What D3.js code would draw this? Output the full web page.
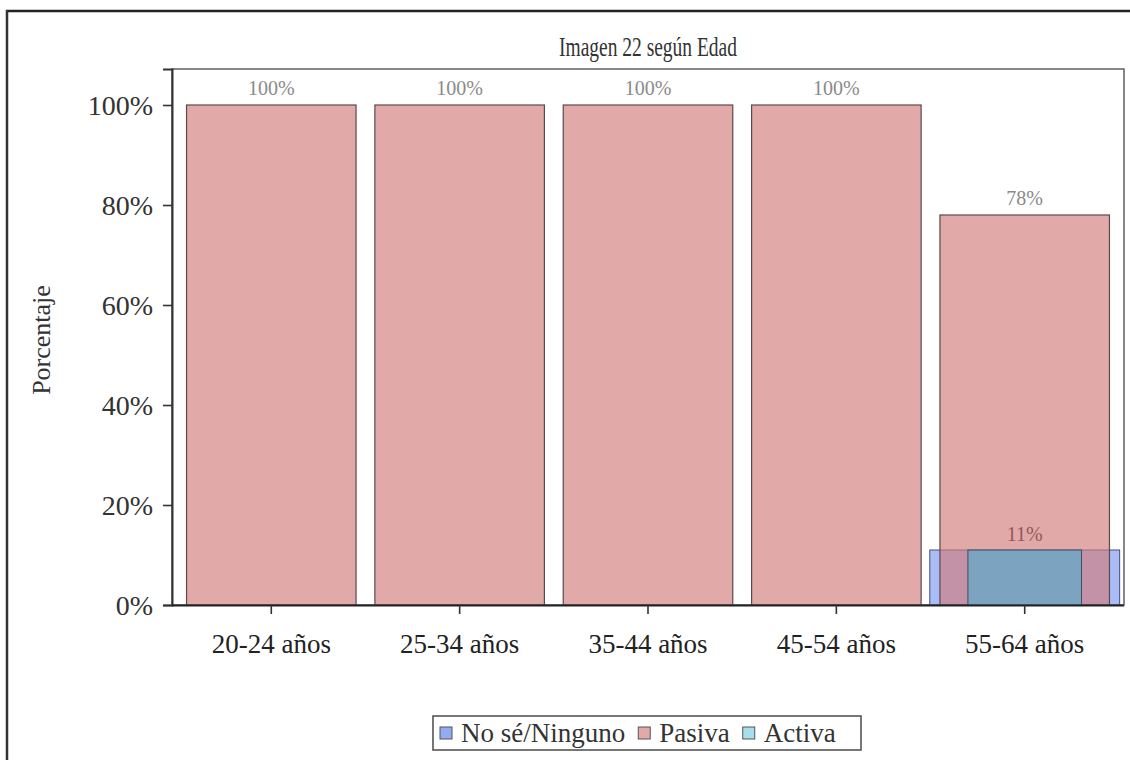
<!DOCTYPE html>
<html><head><meta charset="utf-8">
<script src="https://cdn.jsdelivr.net/npm/d3@7"></script>
<style>body{margin:0;background:#fff;}svg{display:block;font-family:"Liberation Serif","Times New Roman",serif;}</style>
</head><body>
<svg id="c" width="1130" height="760"></svg>
<script>
const categories = ["20-24 años","25-34 años","35-44 años","45-54 años","55-64 años"];
const pasiva = [100,100,100,100,78];
const noSe = [null,null,null,null,11];
const activa = [null,null,null,null,11];
const yTicks = [0,20,40,60,80,100];
const legendItems = ["No sé/Ninguno","Pasiva","Activa"];
const title = "Imagen 22 según Edad";
const yLabel = "Porcentaje";

const FF = "Liberation Serif, Times New Roman, serif";
const svg = d3.select("#c");
// outer image border (top & left)
svg.append("line").attr("x1",6).attr("x2",1130).attr("y1",11).attr("y2",11).attr("stroke","#222").attr("stroke-width",2.5);
svg.append("line").attr("x1",7).attr("x2",7).attr("y1",10).attr("y2",760).attr("stroke","#333").attr("stroke-width",2.5);

const L=172,R=1124,T=69,B=605;
const x = d3.scaleBand().domain(categories).range([179,1117]).paddingInner(0.1).paddingOuter(0.04);
const y = d3.scaleLinear().domain([0,107.2]).range([B,T]);

// frame
svg.append("rect").attr("x",L).attr("y",T).attr("width",R-L).attr("height",B-T).attr("fill","none").attr("stroke","#6a6a6a").attr("stroke-width",1.6);

const g = svg.append("g");
const bw = x.bandwidth();
// No sé (wide)
g.selectAll(".ns").data(categories.map((c,i)=>({c,v:noSe[i]})).filter(d=>d.v!=null)).enter().append("rect")
 .attr("x",d=>x(d.c)+bw/2-bw*0.56).attr("width",bw*1.12).attr("y",d=>y(d.v)).attr("height",d=>B-y(d.v))
 .attr("fill","#6f8fef").attr("fill-opacity",0.6).attr("stroke","#44507a").attr("stroke-width",1);
// labels drawn under pasiva for 11%
g.selectAll(".lba").data(categories.map((c,i)=>({c,v:activa[i]})).filter(d=>d.v!=null)).enter().append("text")
 .attr("x",d=>x(d.c)+bw/2).attr("y",d=>y(d.v)-9).attr("text-anchor","middle").attr("font-size",20).attr("fill","#111")
 .text(d=>d.v+"%");
// Pasiva
g.selectAll(".pa").data(categories.map((c,i)=>({c,v:pasiva[i]}))).enter().append("rect")
 .attr("x",d=>x(d.c)).attr("width",bw).attr("y",d=>y(d.v)).attr("height",d=>B-y(d.v))
 .attr("fill","#d27b7b").attr("fill-opacity",0.65).attr("stroke","#5a4a4a").attr("stroke-width",1.2);
g.selectAll(".lbp").data(categories.map((c,i)=>({c,v:pasiva[i]}))).enter().append("text")
 .attr("x",d=>x(d.c)+bw/2).attr("y",d=>y(d.v)-10).attr("text-anchor","middle").attr("font-size",20).attr("fill","#8a8a8a")
 .text(d=>d.v+"%");
// Activa (narrow)
g.selectAll(".ac").data(categories.map((c,i)=>({c,v:activa[i]})).filter(d=>d.v!=null)).enter().append("rect")
 .attr("x",d=>x(d.c)+bw/2-bw*0.335).attr("width",bw*0.67).attr("y",d=>y(d.v)).attr("height",d=>B-y(d.v))
 .attr("fill","#6aa8c6").attr("fill-opacity",0.8).attr("stroke","#3e4e5e").attr("stroke-width",1);

// axes
const ya = svg.append("g").attr("transform",`translate(${L},0)`).call(d3.axisLeft(y).tickValues(yTicks).tickFormat(d=>d+"%").tickSizeOuter(0).tickSize(9).tickPadding(10));
ya.select(".domain").attr("stroke","#333").attr("stroke-width",2);
ya.selectAll(".tick line").attr("stroke","#333").attr("stroke-width",1.6);
ya.selectAll("text").attr("font-size",28).attr("fill","#333").attr("font-family",FF).attr("dy","0.34em");
const xa = svg.append("g").attr("transform",`translate(0,${B})`).call(d3.axisBottom(x).tickSizeOuter(0).tickSize(9).tickPadding(20));
xa.select(".domain").attr("d",`M${L},0.5H${R}`).attr("stroke","#222").attr("stroke-width",2);
xa.selectAll(".tick line").attr("stroke","#333").attr("stroke-width",1.6);
xa.selectAll("text").attr("font-size",27).attr("fill","#222").attr("font-family",FF);

svg.append("text").attr("x",648).attr("y",56).attr("text-anchor","middle").attr("font-size",27).attr("fill","#333")
  .attr("textLength",178).attr("lengthAdjust","spacingAndGlyphs").text(title);
svg.append("text").attr("transform","translate(50,340) rotate(-90)").attr("text-anchor","middle").attr("font-size",26).attr("fill","#333").text(yLabel);

// legend
const lg = svg.append("g");
lg.append("rect").attr("x",433).attr("y",716).attr("width",428).attr("height",34).attr("fill","#fff").attr("stroke","#555").attr("stroke-width",1.6);
const sw = [{f:"#6f8fef",o:0.75},{f:"#d27b7b",o:0.65},{f:"#6cc8dc",o:0.6}];
let cx = 440;
legendItems.forEach((t,i)=>{
  lg.append("rect").attr("x",cx).attr("y",727).attr("width",12).attr("height",12).attr("fill",sw[i].f).attr("fill-opacity",sw[i].o).attr("stroke","#555").attr("stroke-width",1);
  const tx = lg.append("text").attr("x",cx+21).attr("y",742).attr("font-size",27).attr("fill","#333").text(t);
  cx = cx + 21 + tx.node().getComputedTextLength() + 13;
});
</script>
</body></html>
